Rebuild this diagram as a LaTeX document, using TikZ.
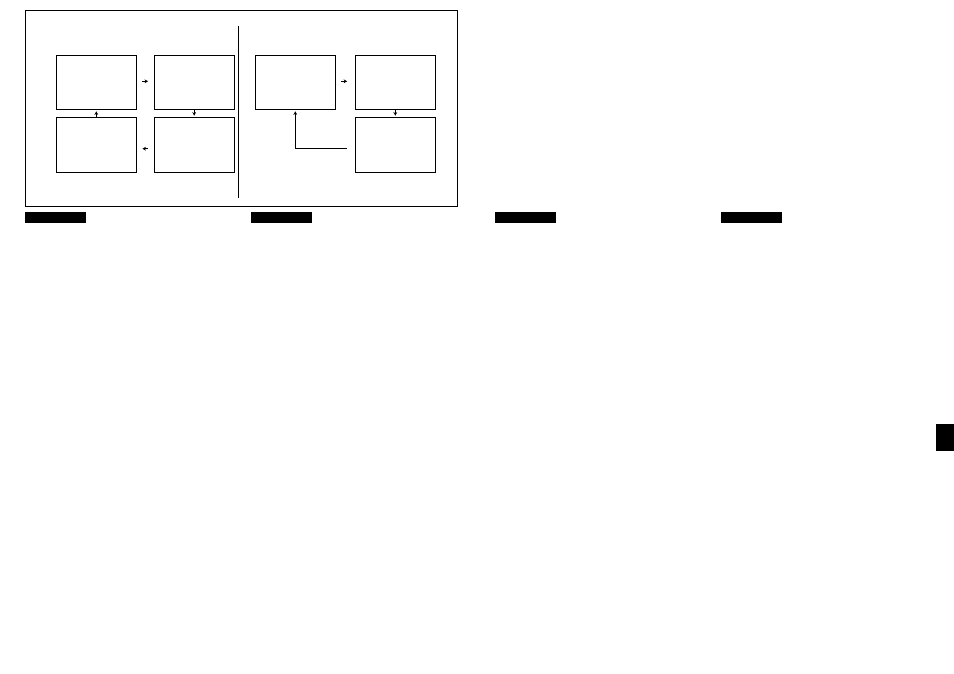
\documentclass[tikz,border=0pt]{standalone}
\usepackage{tikz}
\usetikzlibrary{positioning,calc,arrows.meta}

\begin{document}
\begin{tikzpicture}[x=1pt, y=-1pt,
  panel/.style={draw, line width=0.8pt, minimum width=80.5pt, minimum height=54.5pt, inner sep=0pt},
  flow/.style={line width=0.9pt, -{Stealth[length=3.5pt,width=3.8pt]}}]
  \useasboundingbox (0,0) rectangle (954,674);

  % frame
  \draw[line width=0.8pt] (25,10) rectangle (457,206);
  \draw[line width=0.8pt] (238.3,26) -- (238.3,198.3);

  % left cycle
  \node [panel] (A) at (96.3,82.2) {};
  \node [panel] (B) at (194.2,82.2) {};
  \node [panel] (C) at (96.3,144.8) {};
  \node [panel] (D) at (194.2,144.8) {};

  \draw[flow, shorten <=5.5pt, shorten >=5.5pt] ([yshift=0.9pt]A.east) -- ([yshift=0.9pt]B.west);
  \draw[flow, shorten <=0pt, shorten >=1.5pt] (B.south) -- (D.north);
  \draw[flow, shorten <=5.5pt, shorten >=5.5pt] ([yshift=-3.9pt]D.west) -- ([yshift=-3.9pt]C.east);
  \draw[flow, shorten <=0pt, shorten >=1.5pt] (C.north) -- (A.south);

  % right loop
  \node [panel] (E) at (295.3,82.2) {};
  \node [panel] (F) at (395.3,82.2) {};
  \node [panel] (G) at (395.3,144.8) {};
  \coordinate (H) at (346.7,148.3);

  \draw[flow, shorten <=5.5pt, shorten >=7.5pt] ([yshift=0.9pt]E.east) -- ([yshift=0.9pt]F.west);
  \draw[flow, shorten <=0pt, shorten >=1.5pt] (F.south) -- (G.north);
  \draw[flow, shorten >=1.5pt] (H) -| (E.south);

  % tabs
  \foreach \x in {25,251,495,721} {
    \fill (\x,212) rectangle ++(60.5,10.7);
  }
  \fill (936.3,424) rectangle (953.7,451);

\end{tikzpicture}
\end{document}
